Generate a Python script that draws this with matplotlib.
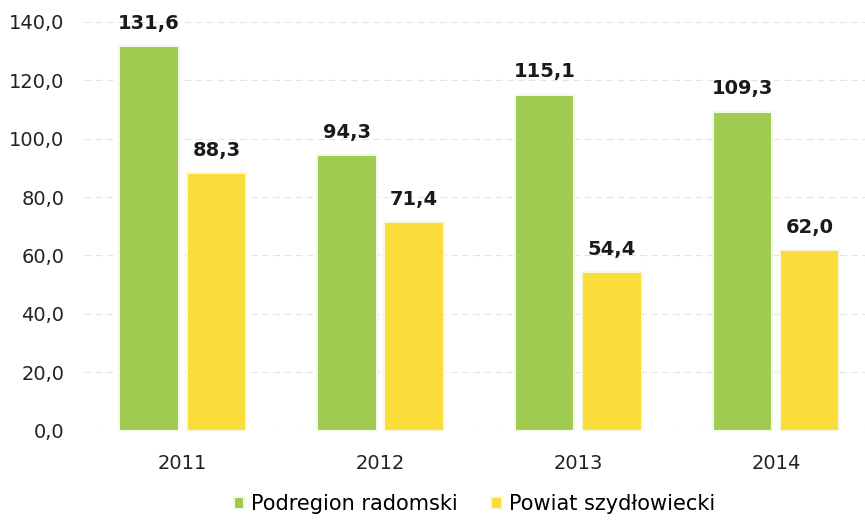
import matplotlib.pyplot as plt
import numpy as np

years = ['2011', '2012', '2013', '2014']
radomski = [131.6, 94.3, 115.1, 109.3]
szydlowiecki = [88.3, 71.4, 54.4, 62.0]
series_names = ['Podregion radomski', 'Powiat szydłowiecki']

plt.rcParams['font.family'] = ['DejaVu Sans']

fig = plt.figure(figsize=(8.65, 5.22), dpi=100)
ax = fig.add_axes([0.097, 0.175, 0.903, 0.783])

x = np.arange(len(years))
w = 0.30
b1 = ax.bar(x - 0.17, radomski, w, color='#9fcc50', edgecolor='#f4f8e8', linewidth=1.5,
            label=series_names[0], zorder=3)
b2 = ax.bar(x + 0.17, szydlowiecki, w, color='#fadc3a', edgecolor='#fbf6dc', linewidth=1.5,
            label=series_names[1], zorder=3)

for bars in (b1, b2):
    for r in bars:
        v = r.get_height()
        ax.text(r.get_x() + r.get_width() / 2, v + 4.5, f'{v:.1f}'.replace('.', ','),
                ha='center', va='bottom', fontsize=14, fontweight='bold', color='#1a1a1a')

ax.set_ylim(0, 140)
ax.set_xlim(-0.5, 3.45)
ax.set_yticks(np.arange(0, 141, 20))
ax.set_yticklabels([f'{t:.1f}'.replace('.', ',') for t in np.arange(0, 141, 20)])
ax.set_xticks(x)
ax.set_xticklabels(years)
ax.tick_params(axis='both', length=0, labelsize=14, colors='#222222')
ax.tick_params(axis='x', pad=17)
ax.tick_params(axis='y', pad=14)
ax.grid(axis='y', color='#e4e4e4', linestyle=(0, (6, 4)), linewidth=0.8, zorder=0)
for s in ax.spines.values():
    s.set_visible(False)

ax.legend(loc='upper center', bbox_to_anchor=(0.5, -0.11), ncol=2, frameon=False,
          fontsize=15, handlelength=0.5, handleheight=0.5, handletextpad=0.35,
          columnspacing=1.6)

fig.savefig('out.png', dpi=100)
